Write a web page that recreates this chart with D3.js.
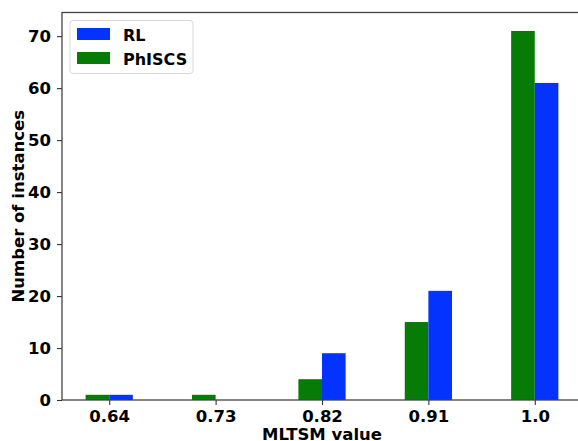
<!DOCTYPE html>
<html>
<head>
<meta charset="utf-8">
<script src="https://d3js.org/d3.v7.min.js"></script>
<style>
  body { margin: 0; background: #fff; }
  text { font-family: "DejaVu Sans", sans-serif; font-weight: bold; }
</style>
</head>
<body>
<div id="chart"></div>
<script>
  // data
  const categories = ["0.64", "0.73", "0.82", "0.91", "1.0"];
  const rlValues = [1, 0, 9, 21, 61];
  const phiscsValues = [1, 1, 4, 15, 71];
  const yTicks = [0, 10, 20, 30, 40, 50, 60, 70];

  const W = 578, H = 441;
  const plotLeft = 62, plotRight = 582, plotTop = 12.5, plotBottom = 400;
  const barW = 0.222;

  const svg = d3.select("#chart").append("svg")
    .attr("width", W).attr("height", H);

  var x = d3.scaleLinear()
    .domain([-0.444, categories.length - 1 + 0.444])
    .range([plotLeft, plotRight]);
  var y = d3.scaleLinear()
    .domain([0, 74.55])
    .range([plotBottom, plotTop]);

  var series = [
    { name: "PhISCS", values: phiscsValues, color: "#067c06", off: -barW },
    { name: "RL", values: rlValues, color: "#0433ff", off: 0 }
  ];

  series.forEach(s => {
    svg.append("g").selectAll("rect")
      .data(s.values)
      .enter()
      .append("rect")
      .attr("x", (d, i) => x(i + s.off))
      .attr("width", x(barW) - x(0))
      .attr("y", d => y(d))
      .attr("height", d => y(0) - y(d))
      .attr("fill", s.color);
  });

  // axes
  var xAxis = svg.append("g")
    .attr("transform", "translate(0," + plotBottom + ")")
    .call(d3.axisBottom(x).tickValues(d3.range(categories.length))
      .tickFormat(i => categories[i]).tickSize(5).tickPadding(5));
  var yAxis = svg.append("g")
    .attr("transform", "translate(" + plotLeft + ",0)")
    .call(d3.axisLeft(y).tickValues(yTicks).tickSize(5).tickPadding(6));

  [xAxis, yAxis].forEach(a => {
    a.select(".domain").remove();
    a.selectAll("line").attr("stroke", "#333").attr("stroke-width", 1.1);
    a.selectAll("text").attr("font-size", "16.5px").attr("fill", "#000")
      .style("font-family", "DejaVu Sans").style("font-weight", "bold");
  });

  // spines
  svg.append("rect")
    .attr("x", plotLeft).attr("y", plotTop)
    .attr("width", plotRight - plotLeft).attr("height", plotBottom - plotTop)
    .attr("fill", "none").attr("stroke", "#444").attr("stroke-width", 1.3);

  // labels
  svg.append("text")
    .attr("x", (plotLeft + plotRight) / 2 - 0)
    .attr("y", 440)
    .attr("text-anchor", "middle")
    .attr("font-size", "16.5px")
    .text("MLTSM value");

  svg.append("text")
    .attr("transform", "translate(24," + ((plotTop + plotBottom) / 2) + ") rotate(-90)")
    .attr("text-anchor", "middle")
    .attr("font-size", "16.5px")
    .text("Number of instances");

  // legend
  var lg = svg.append("g");
  lg.append("rect")
    .attr("x", 70).attr("y", 20.5).attr("width", 123).attr("height", 53)
    .attr("rx", 3).attr("fill", "#fff").attr("fill-opacity", 0.8)
    .attr("stroke", "#d8d8d8").attr("stroke-width", 1);
  [series[1], series[0]].forEach((s, i) => {
    lg.append("rect")
      .attr("x", 77).attr("y", 28 + i * 24)
      .attr("width", 33).attr("height", 12)
      .attr("fill", s.color);
    lg.append("text")
      .attr("x", 123).attr("y", 40.5 + i * 24)
      .attr("font-size", "16px")
      .text(s.name);
  });
</script>
</body>
</html>
